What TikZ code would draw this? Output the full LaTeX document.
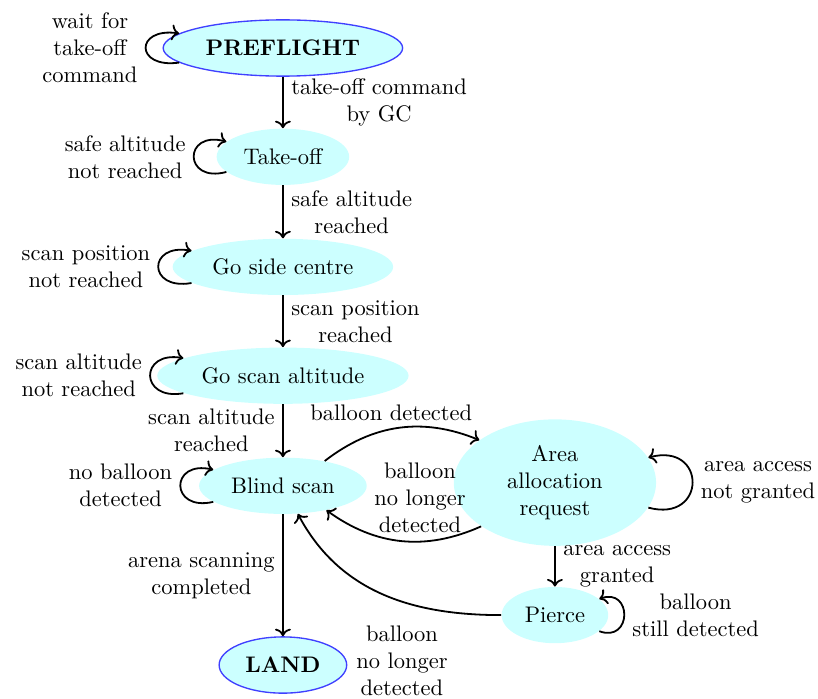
\documentclass[tikz,border=0pt]{standalone}
\usepackage{tikz}
\usetikzlibrary{arrows.meta, shapes.geometric}

\definecolor{phasecyan}{RGB}{204,255,255}

\begin{document}
\begin{tikzpicture}[
    phase/.style={ellipse, fill=phasecyan, minimum height=2.5em},
    endphase/.style={phase, draw=blue!75, semithick, font=\bfseries},
    trans/.style={-{To}, thick},
    selfloop/.style={loop, min distance=7mm},
    lbl/.style={align=center},
]

\useasboundingbox (0,0) rectangle (12.78,-10.92);

% states of the mission
\node[endphase] (pre) at (4.42,-0.75) {PREFLIGHT};
\node[phase] (takeoff) at (4.42,-2.45) {Take-off};
\node[phase] (side) at (4.42,-4.17) {Go side centre};
\node[phase] (scanalt) at (4.42,-5.87) {Go scan altitude};
\node[phase] (blind) at (4.42,-7.59) {Blind scan};
\node[endphase] (land) at (4.42,-10.39) {LAND};
\node[phase, text width=2cm, align=center] (area) at (8.67,-7.54) {Area allocation request};
\node[phase] (pierce) at (8.67,-9.61) {Pierce};

% transitions
\draw[trans] (pre) to[selfloop, out=188, in=172] node[lbl, left] {wait for\\take-off\\command} (pre);
\draw[trans] (pre) -- (takeoff) node[lbl, midway, right] {take-off command\\by GC};
\draw[trans] (takeoff) to[selfloop, out=195, in=165] node[lbl, left] {safe altitude\\not reached} (takeoff);
\draw[trans] (takeoff) -- (side) node[lbl, midway, right] {safe altitude\\reached};
\draw[trans] (side) to[selfloop, out=190, in=170] node[lbl, left] {scan position\\not reached} (side);
\draw[trans] (side) -- (scanalt) node[lbl, midway, right] {scan position\\reached};
\draw[trans] (scanalt) to[selfloop, out=190, in=170] node[lbl, left] {scan altitude\\not reached} (scanalt);
\draw[trans] (scanalt) -- (blind) node[lbl, midway, left] {scan altitude\\reached};
\draw[trans] (blind) to[selfloop, out=193, in=167] node[lbl, left] {no balloon\\detected} (blind);
\draw[trans] (blind) -- (land) node[lbl, midway, left] {arena scanning\\completed};
\draw[trans] (blind) to[bend left=30] node[lbl, pos=0.45, above] {balloon detected} (area);
\draw[trans] (area) to[bend left=30] node[lbl, pos=0.38, above] {balloon\\no longer\\detected} (blind);
\draw[trans] (area) to[selfloop, out=-15, in=15, min distance=9.5mm] node[lbl, right] {area access\\not granted} (area);
\draw[trans] (area) -- (pierce) node[lbl, midway, right] {area access\\granted};
\draw[trans] (pierce) to[selfloop, out=-20, in=20, min distance=5.5mm] node[lbl, right] {balloon\\still detected} (pierce);
\draw[trans] (pierce) to[out=180, in=-62] (blind);
\node[lbl] (lostlbl) at (6.28,-10.33) {balloon\\no longer\\detected};

\end{tikzpicture}
\end{document}
